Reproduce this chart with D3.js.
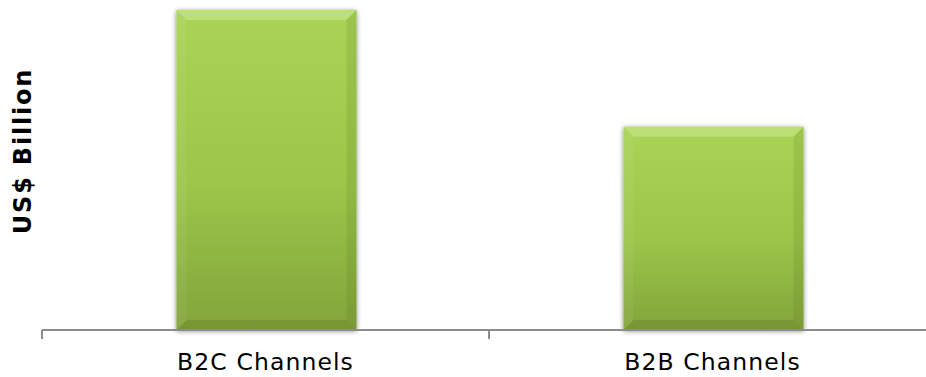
<!DOCTYPE html>
<html>
<head>
<meta charset="utf-8">
<script src="https://cdn.jsdelivr.net/npm/d3@7"></script>
<style>
  html, body { margin: 0; padding: 0; background: #ffffff; }
  svg { display: block; }
</style>
</head>
<body>
<svg id="chart" width="926" height="377"></svg>
<script>
// Market size by channel (relative units, B2C largest)
const categories = ["B2C Channels", "B2B Channels"];
const values = [100, 63.5];
const yAxisTitle = "US$ Billion";

const W = 926, H = 377;
const svg = d3.select("#chart");

const x = d3.scaleBand().domain(categories).range([42, 936]).paddingInner(0).paddingOuter(0);
const barW = 180;
const y = d3.scaleLinear().domain([0, 100]).range([330, 10]);

const defs = svg.append("defs");

const face = defs.append("linearGradient").attr("id", "face")
  .attr("x1", 0).attr("y1", 0).attr("x2", 0).attr("y2", 1);
face.append("stop").attr("offset", "0%").attr("stop-color", "#a9d455");
face.append("stop").attr("offset", "55%").attr("stop-color", "#9bc649");
face.append("stop").attr("offset", "100%").attr("stop-color", "#83a43b");

const shadow = defs.append("filter").attr("id", "shadow")
  .attr("x", "-10%").attr("y", "-10%").attr("width", "120%").attr("height", "120%");
shadow.append("feGaussianBlur").attr("in", "SourceAlpha").attr("stdDeviation", 2.5).attr("result", "b");
shadow.append("feOffset").attr("in", "b").attr("dx", 0).attr("dy", 1).attr("result", "o");
shadow.append("feComponentTransfer").attr("in", "o").attr("result", "s")
  .append("feFuncA").attr("type", "linear").attr("slope", 0.5);
const merge = shadow.append("feMerge");
merge.append("feMergeNode").attr("in", "s");
merge.append("feMergeNode").attr("in", "SourceGraphic");

const bevel = 10;
const bars = svg.append("g").selectAll("g.bar")
  .data(categories.map((c, i) => ({ c, v: values[i] })))
  .join("g").attr("class", "bar");

bars.each(function (d) {
  const g = d3.select(this);
  const x0 = x(d.c) + x.bandwidth() / 2 - barW / 2 + 1;
  const x1 = x0 + barW;
  const y0 = y(d.v);
  const y1 = y(0);
  const b = bevel;
  g.append("rect").attr("x", x0).attr("y", y0).attr("width", barW).attr("height", y1 - y0)
    .attr("fill", "url(#face)").attr("filter", "url(#shadow)");
  // top bevel (highlight)
  g.append("path").attr("d", `M${x0},${y0} L${x1},${y0} L${x1 - b},${y0 + b} L${x0 + b},${y0 + b} Z`)
    .attr("fill", "#c4e585").attr("opacity", 0.7);
  // left bevel
  g.append("path").attr("d", `M${x0},${y0} L${x0 + b},${y0 + b} L${x0 + b},${y1 - b} L${x0},${y1} Z`)
    .attr("fill", "#ffffff").attr("opacity", 0.06);
  // right bevel
  g.append("path").attr("d", `M${x1},${y0} L${x1},${y1} L${x1 - b},${y1 - b} L${x1 - b},${y0 + b} Z`)
    .attr("fill", "#3e5a10").attr("opacity", 0.12);
  // bottom bevel
  g.append("path").attr("d", `M${x0},${y1} L${x1},${y1} L${x1 - b},${y1 - b} L${x0 + b},${y1 - b} Z`)
    .attr("fill", "#3e5a10").attr("opacity", 0.18);
});

// category axis
const axis = svg.append("g").attr("transform", `translate(0,${y(0)})`)
  .call(d3.axisBottom(x).tickSize(0).tickFormat(""));
axis.select(".domain").attr("stroke", "#8c8c8c").attr("stroke-width", 2)
  .attr("d", `M42,0H926`);
// tick marks at category boundaries
const bounds = [x.range()[0]].concat(categories.slice(1).map(c => x(c)));
svg.append("g").selectAll("line").data(bounds).join("line")
  .attr("x1", d => d).attr("x2", d => d)
  .attr("y1", y(0)).attr("y2", y(0) + 9)
  .attr("stroke", "#8c8c8c").attr("stroke-width", 2);

svg.append("g").selectAll("text").data(categories).join("text")
  .attr("x", d => x(d) + x.bandwidth() / 2)
  .attr("y", 370)
  .attr("text-anchor", "middle")
  .attr("font-family", "DejaVu Sans, Verdana, sans-serif")
  .attr("font-size", 23.5)
  .attr("letter-spacing", 1.1)
  .attr("fill", "#000")
  .text(d => d);

svg.append("text")
  .attr("transform", `translate(31,151) rotate(-90)`)
  .attr("text-anchor", "middle")
  .attr("font-family", "DejaVu Sans, Verdana, sans-serif")
  .attr("font-weight", "bold")
  .attr("font-size", 24)
  .attr("letter-spacing", 1.8)
  .attr("fill", "#000")
  .text(yAxisTitle);
</script>
</body>
</html>
